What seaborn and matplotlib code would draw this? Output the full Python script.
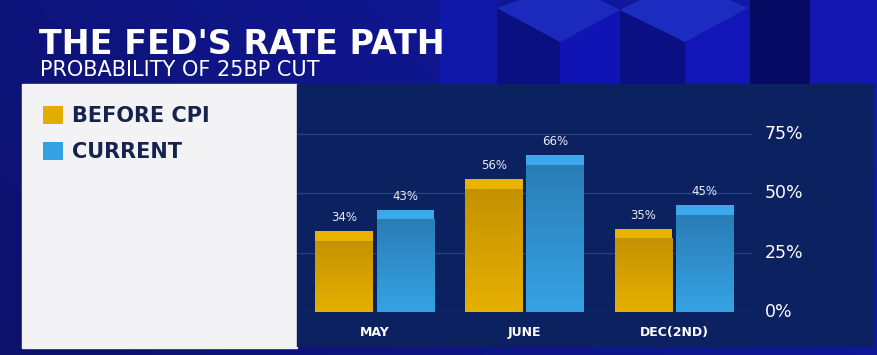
import numpy as np
import pandas as pd
import matplotlib
matplotlib.use("Agg")
import matplotlib.pyplot as plt
from matplotlib.patches import Rectangle, Polygon
import seaborn as sns

# data
months = ["MAY", "JUNE", "DEC(2ND)"]
before_cpi = [34, 56, 35]
current = [43, 66, 45]
series_names = ["BEFORE CPI", "CURRENT"]
y_ticks = [0, 25, 50, 75]

df = pd.DataFrame({
    "month": months * 2,
    "prob": before_cpi + current,
    "series": [series_names[0]] * 3 + [series_names[1]] * 3,
})

sns.set_theme(style="white")
plt.rcParams["font.family"] = ["DejaVu Sans"]

W, H = 877, 355
fig = plt.figure(figsize=(W / 100, H / 100), dpi=100)


def fx(px):
    return px / W


def fy(py):
    return 1 - py / H


def poly(pts, col):
    # polygon given in pixel coordinates on the background axes
    bg.add_patch(Polygon([(fx(a), fy(b)) for a, b in pts], closed=True,
                         color=col, lw=0))


# background: dark navy to bright blue, with some cube faces
bg = fig.add_axes([0, 0, 1, 1], zorder=-10)
gx = np.linspace(0, 1, 200)
gy = np.linspace(0, 1, 80)
GX, GY = np.meshgrid(gx, gy)
t = np.clip(0.75 * GX + 0.25 * (1 - GY), 0, 1)
c0 = np.array([0.05, 0.07, 0.42])
c1 = np.array([0.07, 0.10, 0.66])
img = c0[None, None, :] * (1 - t[..., None]) + c1[None, None, :] * t[..., None]
bg.imshow(img, extent=[0, 1, 0, 1], aspect="auto", origin="upper")
poly([(440, 0), (497, 0), (497, 84), (440, 84)], "#0f18a8")
poly([(497, 8), (560, 42), (560, 84), (497, 84)], "#0a1080")
poly([(560, 42), (620, 10), (620, 84), (560, 84)], "#1014b4")
poly([(497, 8), (520, 0), (600, 0), (620, 10), (560, 42)], "#1b29bd")
poly([(620, 10), (685, 42), (685, 84), (620, 84)], "#0a0f84")
poly([(685, 42), (748, 8), (748, 84), (685, 84)], "#1216b8")
poly([(620, 10), (640, 0), (730, 0), (748, 8), (685, 42)], "#1c2bc0")
poly([(750, 0), (810, 0), (810, 84), (750, 84)], "#060a62")
poly([(810, 0), (877, 0), (877, 84), (810, 84)], "#1418b0")
bg.set_xlim(0, 1)
bg.set_ylim(0, 1)
bg.axis("off")

# white legend panel and navy chart panel
fig.patches.append(Rectangle((fx(22), fy(348)), fx(297 - 22), fy(84) - fy(348),
                             transform=fig.transFigure, color="#f3f3f5", zorder=-5))
fig.patches.append(Rectangle((fx(297), fy(346)), fx(872 - 297), fy(84) - fy(346),
                             transform=fig.transFigure, color="#0c2160", zorder=-5))

fig.text(fx(39), fy(45), "THE FED'S RATE PATH", color="white", fontsize=24,
         fontweight="heavy", va="center", ha="left")
fig.text(fx(40), fy(70), "PROBABILITY OF 25BP CUT", color="white", fontsize=15,
         va="center", ha="left")

# chart axes
ax = fig.add_axes([fx(297), fy(312), fx(752 - 297), fy(84) - fy(312)])
ax.set_facecolor("none")
palette = {"BEFORE CPI": "#e2ad00", "CURRENT": "#35a0e2"}
sns.barplot(data=df, x="month", y="prob", hue="series", palette=palette,
            width=0.82, gap=0.06, saturation=1, ax=ax, linewidth=0)

ax.set_xlim(-0.52, 2.52)
ax.set_ylim(0, 96)

# top band, darker at top of the body, lighter at the base
shades = {"#e2ad00": ("#e8b400", "#c49200", "#e6b000"),
          "#35a0e2": ("#3ca8ec", "#2a7db5", "#36a2e4")}
for p in list(ax.patches):
    h = p.get_height()
    if h <= 0:
        continue
    col = matplotlib.colors.to_hex(p.get_facecolor())
    band, dark, light = shades.get(col, (col, col, col))
    x0, w = p.get_x(), p.get_width()
    grad = np.linspace(0, 1, 64)[:, None]
    cmap = matplotlib.colors.LinearSegmentedColormap.from_list("g", [light, dark])
    ax.imshow(grad, extent=[x0, x0 + w, 0, h - 4], cmap=cmap, aspect="auto",
              origin="lower", zorder=2, interpolation="bilinear")
    ax.add_patch(Rectangle((x0, h - 4), w, 4, color=band, lw=0, zorder=3))
    ax.text(x0 + w / 2, h + 3, f"{int(round(h))}%", ha="center", va="bottom",
            color="#e8ecf4", fontsize=8.5, zorder=4)

for v in y_ticks:
    ax.axhline(v, color="#23407f", lw=1, zorder=0)

ax.set_xlim(-0.52, 2.52)
ax.set_ylim(0, 96)
ax.set_yticks([])
ax.set_xlabel("")
ax.set_ylabel("")
ax.tick_params(axis="x", length=0, pad=10, colors="white", labelsize=9)
for lab in ax.get_xticklabels():
    lab.set_fontweight("semibold")
for s in ax.spines.values():
    s.set_visible(False)

for v in y_ticks:
    ax.annotate(f"{v}%", xy=(1, v), xycoords=("axes fraction", "data"),
                xytext=(9, 0), textcoords="offset points", ha="left",
                va="center", color="white", fontsize=12.5)

handles, labels = ax.get_legend_handles_labels()
ax.legend_.remove()
leg = fig.legend(handles, labels, loc="upper left",
                 bbox_to_anchor=(fx(24), fy(87)), bbox_transform=fig.transFigure,
                 frameon=False, fontsize=15, handlelength=0.95, handleheight=1.0,
                 handletextpad=0.45, labelspacing=0.75)
for txt in leg.get_texts():
    txt.set_color("#15234d")
    txt.set_fontweight("bold")

fig.savefig("out.png", dpi=100)
